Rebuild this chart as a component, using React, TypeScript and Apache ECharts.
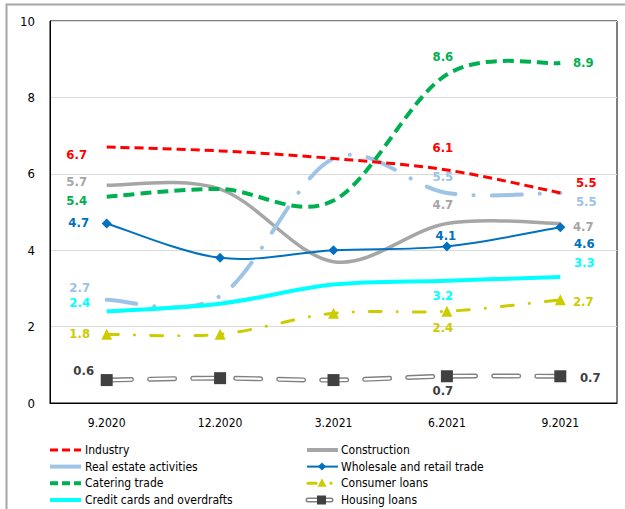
import React, { useEffect, useRef } from "react";
import * as echarts from "echarts";

const categories = ["9.2020", "12.2020", "3.2021", "6.2021", "9.2021"];
const industry = [6.7, 6.6, 6.4, 6.1, 5.5];
const construction = [5.7, 5.6, 3.7, 4.7, 4.7];
const realEstate = [2.7, 2.8, 6.4, 5.5, 5.5];
const wholesale = [4.7, 3.8, 4.0, 4.1, 4.6];
const catering = [5.4, 5.6, 5.3, 8.6, 8.9];
const consumer = [1.8, 1.8, 2.35, 2.4, 2.7];
const creditCards = [2.4, 2.6, 3.1, 3.2, 3.3];
const housing = [0.6, 0.65, 0.6, 0.7, 0.7];

const leftLegend = ["Industry", "Real estate activities", "Catering trade", "Credit cards and overdrafts"];
const rightLegend = ["Construction", "Wholesale and retail trade", "Consumer loans", "Housing loans"];

const FONT = "'DejaVu Sans Condensed', 'DejaVu Sans', sans-serif";

type Spec = Record<number, [number, number]>;

function withLabels(values: number[], color: string, spec: Spec) {
  return values.map((v, i) =>
    spec[i]
      ? {
          value: v,
          label: {
            show: true,
            position: "inside",
            offset: spec[i],
            color,
            opacity: 1,
            fontWeight: "bold",
            fontSize: 13,
            fontFamily: FONT,
          },
        }
      : v
  );
}

// Excel-like (Catmull-Rom) smoothed curve drawn through the axis scales
function curve(values: number[], style: any, z: number) {
  return {
    type: "custom",
    coordinateSystem: "cartesian2d",
    data: values.map((v, i) => [i, v]),
    encode: { x: 0, y: 1 },
    z,
    silent: true,
    renderItem: (params: any, api: any) => {
      if (params.dataIndex !== 0) return { type: "group", children: [] };
      const pts = values.map((v, i) => api.coord([i, v]));
      let d = `M${pts[0][0]},${pts[0][1]}`;
      for (let i = 0; i < pts.length - 1; i++) {
        const p0 = pts[i - 1] || pts[i];
        const p1 = pts[i];
        const p2 = pts[i + 1];
        const p3 = pts[i + 2] || pts[i + 1];
        const c1x = p1[0] + (p2[0] - p0[0]) / 6;
        const c1y = p1[1] + (p2[1] - p0[1]) / 6;
        const c2x = p2[0] - (p3[0] - p1[0]) / 6;
        const c2y = p2[1] - (p3[1] - p1[1]) / 6;
        d += ` C${c1x},${c1y} ${c2x},${c2y} ${p2[0]},${p2[1]}`;
      }
      return {
        type: "path",
        shape: { pathData: d },
        style: { fill: "none", ...style },
      };
    },
  };
}

function points(name: string, values: number[], color: string, spec: Spec, symbol: string | null, size: number, z: number) {
  return {
    name,
    type: "line",
    symbol: symbol || "circle",
    symbolSize: symbol ? size : 1,
    showSymbol: true,
    color,
    itemStyle: { color, opacity: symbol ? 1 : 0 },
    lineStyle: { width: 0, opacity: 0 },
    data: withLabels(values, color, spec),
    z,
  };
}

function legendGraphics() {
  const rowsY = [450, 466.6, 483.2, 500];
  const els: any[] = [];
  const text = (x: number, y: number, s: string) => ({
    type: "text",
    x,
    y,
    style: { text: s, fill: "#000", font: `12px ${FONT}`, verticalAlign: "middle", align: "left" },
  });
  const line = (x1: number, x2: number, y: number, stroke: string, lineWidth: number, lineDash?: number[], cap = "butt") => ({
    type: "line",
    shape: { x1, y1: y, x2, y2: y },
    style: { stroke, lineWidth, lineDash, lineCap: cap },
  });
  // left column
  const lx = 50;
  const lx2 = 81;
  els.push(line(lx, lx2, rowsY[0], "#FF0000", 3, [8, 4]));
  els.push(line(lx, lx2, rowsY[1], "#9DC3E6", 4));
  els.push(line(lx, lx2, rowsY[2], "#00B050", 4, [8, 4]));
  els.push(line(lx, lx2, rowsY[3], "#00FFFF", 4));
  leftLegend.forEach((s, i) => els.push(text(85, rowsY[i], s)));
  // right column
  const rx = 307;
  const rx2 = 338;
  els.push(line(rx, rx2, rowsY[0], "#A6A6A6", 4));
  els.push(line(rx, rx2, rowsY[1], "#0070C0", 2));
  els.push({
    type: "polygon",
    shape: { points: [[322, rowsY[1] - 4], [326, rowsY[1]], [322, rowsY[1] + 4], [318, rowsY[1]]] },
    style: { fill: "#0070C0" },
  });
  els.push(line(rx + 1, 316, rowsY[2], "#CCCC00", 3, undefined, "round"));
  els.push({
    type: "polygon",
    shape: { points: [[322, rowsY[2] - 5], [326.5, rowsY[2] + 3.5], [317.5, rowsY[2] + 3.5]] },
    style: { fill: "#CCCC00" },
  });
  els.push({ type: "circle", shape: { cx: 331, cy: rowsY[2], r: 1.6 }, style: { fill: "#CCCC00" } });
  els.push(line(rx + 1, 331, rowsY[3], "#808080", 5, undefined, "round"));
  els.push(line(rx + 1, 331, rowsY[3], "#FFFFFF", 2, undefined, "round"));
  els.push({ type: "rect", shape: { x: 317, y: rowsY[3] - 4.5, width: 9, height: 9 }, style: { fill: "#404040" } });
  rightLegend.forEach((s, i) => els.push(text(341, rowsY[i], s)));
  return els;
}

export default function App() {
  const ref = useRef<HTMLDivElement>(null);
  useEffect(() => {
    if (!ref.current) return;
    const chart = echarts.init(ref.current, null, { renderer: "svg" });
    const option: any = {
      animation: false,
      textStyle: { fontFamily: FONT },
      graphic: [
        {
          type: "rect",
          shape: { x: 6.5, y: 4.5, width: 700, height: 700 },
          style: { fill: "none", stroke: "#A6A6A6", lineWidth: 2 },
          silent: true,
        },
        ...legendGraphics(),
      ],
      grid: {
        left: 50,
        right: 8,
        top: 21,
        bottom: 106,
        show: true,
        borderColor: "#000",
        borderWidth: 1,
      },
      xAxis: {
        type: "category",
        data: categories,
        boundaryGap: true,
        axisLine: { show: true, lineStyle: { color: "#000", width: 1 } },
        axisTick: { show: false },
        axisLabel: { fontSize: 12, color: "#000", margin: 14, fontFamily: FONT },
      },
      yAxis: {
        type: "value",
        min: 0,
        max: 10,
        interval: 2,
        axisLine: { show: true, lineStyle: { color: "#000", width: 1 } },
        axisTick: { show: false },
        axisLabel: { fontSize: 13, color: "#000", margin: 15, fontFamily: FONT },
        splitLine: { show: true, lineStyle: { color: "#D9D9D9", width: 1 } },
      },
      series: [
        curve(construction, { stroke: "#A6A6A6", lineWidth: 3.5 }, 2),
        curve(realEstate, { stroke: "#9DC3E6", lineWidth: 4, lineDash: [30, 18, 0.1, 18], lineCap: "round" }, 2),
        curve(creditCards, { stroke: "#00FFFF", lineWidth: 4 }, 3),
        curve(industry, { stroke: "#FF0000", lineWidth: 3, lineDash: [9, 5] }, 3),
        curve(catering, { stroke: "#00B050", lineWidth: 4, lineDash: [11, 6] }, 3),
        curve(wholesale, { stroke: "#0070C0", lineWidth: 2 }, 4),
        curve(consumer, { stroke: "#CCCC00", lineWidth: 3, lineDash: [12, 16, 0.1, 16], lineCap: "round" }, 4),
        curve(housing, { stroke: "#808080", lineWidth: 5, lineDash: [25, 18], lineCap: "round" }, 4),
        curve(housing, { stroke: "#FFFFFF", lineWidth: 2.2, lineDash: [25, 18], lineCap: "round" }, 4),
        points("Construction", construction, "#A6A6A6", { 0: [-30, -4], 3: [-4, -19], 4: [23, 3] }, null, 0, 6),
        points("Real estate activities", realEstate, "#9DC3E6", { 0: [-27, -12], 3: [-4, -16], 4: [26, 9] }, null, 0, 6),
        points("Credit cards and overdrafts", creditCards, "#00FFFF", { 0: [-27, -9], 3: [-4, 15], 4: [24, -14] }, null, 0, 6),
        points("Industry", industry, "#FF0000", { 0: [-30, 7], 3: [-4, -22], 4: [26, -10] }, null, 0, 6),
        points("Catering trade", catering, "#00B050", { 0: [-30, 4], 3: [-4, -18], 4: [23, -1] }, null, 0, 6),
        points("Wholesale and retail trade", wholesale, "#0070C0", { 0: [-28, -1], 3: [-1, -11], 4: [24, 16] }, "diamond", 10, 7),
        points("Consumer loans", consumer, "#CCCC00", { 0: [-27, -1], 3: [-4, 16], 4: [23, 2] }, "triangle", 11, 7),
        points("Housing loans", housing, "#404040", { 0: [-23, -10], 3: [-4, 14], 4: [30, 1] }, "rect", 12, 7),
      ],
    };
    chart.setOption(option);
    return () => chart.dispose();
  }, []);
  return (
    <div
      ref={ref}
      style={{ position: "fixed", left: 0, top: 0, width: 625, height: 509, background: "#fff" }}
    />
  );
}
